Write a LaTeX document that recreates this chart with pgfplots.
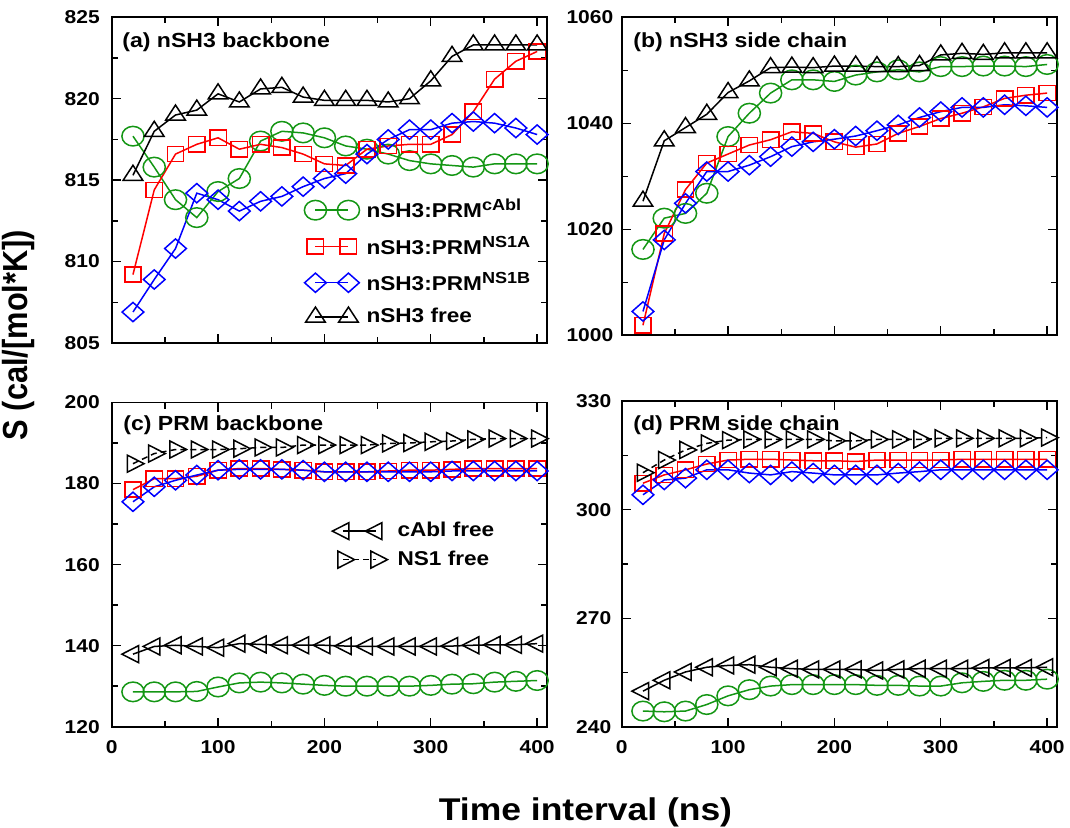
\documentclass[border=0pt]{standalone}
\usepackage{fontspec}
\setmainfont{Liberation Sans}[FakeStretch=1.13]
\setsansfont{Liberation Sans}[FakeStretch=1.13]
\newfontfamily\plainsans{Liberation Sans}
\usepackage{graphicx}
\usepackage{pgfplots}
\pgfplotsset{compat=1.18}
\usepackage{pgfplotstable}

\definecolor{ggreen}{RGB}{20,150,20}
\definecolor{gred}{RGB}{255,0,0}
\definecolor{gblue}{RGB}{0,0,255}

\pgfplotstableread{
x cabl ns1a ns1b free
20 817.7 809.2 806.9 815.3
40 815.8 814.4 808.9 818.0
60 813.8 816.6 810.8 819.0
80 812.7 817.2 814.2 819.3
100 814.3 817.6 813.8 820.3
120 815.1 816.9 813.1 819.8
140 817.4 817.2 813.7 820.6
160 818.0 817.0 814.0 820.7
180 817.9 816.6 814.6 820.1
200 817.6 816.0 815.1 819.9
220 817.1 815.9 815.4 819.9
240 816.9 816.9 816.6 819.9
260 816.6 817.1 817.5 819.8
280 816.2 817.2 818.1 820.0
300 816.0 817.2 818.1 821.1
320 815.9 817.8 818.5 822.6
340 815.8 819.2 818.6 823.3
360 816.0 821.2 818.5 823.3
380 816.0 822.3 818.2 823.3
400 816.0 822.9 817.8 823.3
}\tabA

\pgfplotstableread{
x cabl ns1a ns1b free
20 1016.2 1001.9 1004.5 1025.3
40 1022.1 1019.2 1018.0 1036.7
60 1023.0 1027.5 1024.9 1039.2
80 1026.8 1032.5 1030.9 1041.7
100 1037.5 1034.2 1030.9 1045.8
120 1041.9 1035.9 1032.1 1048.0
140 1045.7 1036.9 1033.7 1050.5
160 1048.2 1038.4 1035.6 1050.6
180 1048.2 1038.1 1036.5 1050.5
200 1047.9 1036.5 1037.0 1050.8
220 1049.1 1035.5 1037.6 1050.8
240 1049.7 1036.1 1038.6 1050.7
260 1050.1 1038.1 1039.7 1050.7
280 1049.7 1039.4 1041.1 1050.9
300 1050.7 1040.9 1042.2 1052.9
320 1050.7 1041.9 1043.0 1053.2
340 1050.8 1043.1 1043.0 1053.0
360 1050.8 1044.7 1043.5 1053.3
380 1050.7 1045.3 1043.3 1053.3
400 1051.1 1045.7 1043.0 1053.3
}\tabB

\pgfplotstableread{
x cabl ns1a ns1b cfree nfree
20 128.6 178.5 175.5 137.9 184.9
40 128.6 181.2 179.2 139.8 187.4
60 128.6 181.2 180.8 140.1 188.4
80 128.7 181.8 182.1 139.8 188.4
100 129.8 183.3 183.3 139.5 188.4
120 130.8 183.7 183.5 140.5 188.6
140 131.0 183.7 183.5 140.3 188.9
160 130.8 183.5 183.5 140.1 188.9
180 130.5 183.3 183.3 140.1 189.5
200 130.2 182.9 182.9 140.1 189.5
220 130.0 182.9 182.9 139.9 189.5
240 130.0 182.9 182.9 139.8 189.5
260 130.0 183.1 182.9 139.8 189.9
280 130.0 183.3 182.9 139.8 190.0
300 130.2 183.3 182.9 139.8 190.3
320 130.5 183.5 183.1 139.9 190.5
340 130.6 183.7 183.1 140.1 190.9
360 131.0 183.7 183.1 140.2 191.1
380 131.2 183.7 183.1 140.2 191.1
400 131.4 183.7 183.1 140.5 191.1
}\tabC

\pgfplotstableread{
x cabl ns1a ns1b cfree nfree
20 244.4 307.3 304.1 249.9 310.2
40 244.2 309.6 308.2 252.9 313.7
60 244.4 311.0 308.7 255.2 316.5
80 246.2 312.6 311.0 256.5 318.3
100 248.6 313.7 311.0 257.0 319.2
120 250.3 313.9 310.1 257.2 319.4
140 251.3 313.9 309.6 256.5 319.4
160 251.7 313.7 310.5 256.1 319.4
180 251.7 313.5 310.1 255.9 319.4
200 251.7 313.5 309.6 255.9 319.0
220 251.7 313.3 309.6 255.9 319.0
240 251.5 313.7 309.6 255.6 319.4
260 251.5 313.7 310.1 255.9 319.4
280 251.3 313.7 310.5 256.1 319.4
300 251.3 313.7 311.0 256.1 319.7
320 252.2 313.9 311.0 256.1 319.7
340 252.6 313.9 311.0 256.3 319.7
360 252.9 313.9 311.0 256.3 319.7
380 252.9 313.9 311.0 256.3 319.7
400 253.2 313.9 311.0 256.5 319.9
}\tabD

\pgfplotsset{
  panel/.style={
    scale only axis, width=217.5pt,
    xmin=0, xmax=409, xtick={0,100,...,400},
    minor x tick num=1, minor y tick num=1,
    tick align=inside,
    axis line style={line width=0.9pt},
    major tick length=4.5pt, minor tick length=3pt,
    tick style={line width=0.7pt, black},
    clip=false,
    /pgf/number format/assume math mode=true,
    /pgf/number format/1000 sep={},
    ticklabel style={font=\bfseries\fontsize{9.3}{9.3}\selectfont},
    yticklabel style={inner sep=0pt, anchor=east},
    xticklabel style={inner sep=0pt, anchor=north, yshift=-6.5pt},
    legend image code/.code={\draw[#1] plot coordinates {(0pt,0pt) (16.5pt,0pt)};},
    legend cell align=left,
    every axis plot/.append style={line width=0.75pt},
  },
  scab/.style={color=ggreen, mark=o, mark size=4.9pt, mark options={xscale=1.13}},
  sns1a/.style={color=gred, mark=square, mark size=3.8pt, mark options={xscale=1.08}},
  sns1b/.style={color=gblue, mark=square, mark size=3.4pt, mark options={xscale=1.13,rotate=45}},
  sfree/.style={color=black, mark=triangle, mark size=5pt, mark options={xscale=1.13}},
  scfree/.style={color=black, mark=triangle, mark size=4.9pt, mark options={xscale=1.13,rotate=90}},
  snfree/.style={color=black, dash pattern=on 3pt off 2pt, mark=triangle, mark size=4.9pt, mark options={solid,xscale=1.13,rotate=-90}},
}

\newcommand{\sups}[1]{\raisebox{3.5pt}{\fontsize{8}{8}\selectfont #1}}

\begin{document}
\begin{tikzpicture}
\begin{scope}[x=0.5pt,y=-0.5pt]
  \path[use as bounding box] (0,0) rectangle (1070,828);
  \coordinate (pa) at (111.7,17.3);
  \coordinate (pb) at (621.7,17.3);
  \coordinate (pc) at (111.7,402.5);
  \coordinate (pd) at (621.7,401);
\end{scope}

% (a)
\begin{axis}[panel, at={(pa)}, anchor=north west, height=162.85pt,
  ymin=805, ymax=825, ytick={805,810,...,825}, xticklabels={},
  yticklabel style={xshift=-5.8pt},
  legend style={at={(axis description cs:0.4420,0.4483)}, anchor=north west,
    draw=none, fill=none, inner sep=0pt, row sep=5.5pt, column sep=2.5pt,
    font=\bfseries\fontsize{10}{10}\selectfont, nodes={inner sep=1pt}}]
\addplot[scab] table[x=x,y=cabl]{\tabA};
\addlegendentry{nSH3:PRM\sups{cAbl}}
\addplot[sns1a] table[x=x,y=ns1a]{\tabA};
\addlegendentry{nSH3:PRM\sups{NS1A}}
\addplot[sns1b] table[x=x,y=ns1b]{\tabA};
\addlegendentry{nSH3:PRM\sups{NS1B}}
\addplot[sfree] table[x=x,y=free]{\tabA};
\addlegendentry{nSH3 free}
\end{axis}

% (b)
\begin{axis}[panel, at={(pb)}, anchor=north west, height=159pt,
  ymin=1000, ymax=1060, ytick={1000,1020,...,1060}, xticklabels={},
  yticklabel style={xshift=-4pt}]
\addplot[scab] table[x=x,y=cabl]{\tabB};
\addplot[sns1a] table[x=x,y=ns1a]{\tabB};
\addplot[sns1b] table[x=x,y=ns1b]{\tabB};
\addplot[sfree] table[x=x,y=free]{\tabB};
\end{axis}

% (c)
\begin{axis}[panel, at={(pc)}, anchor=north west, height=162.1pt,
  ymin=120, ymax=200, ytick={120,140,...,200},
  yticklabel style={xshift=-5.8pt},
  legend style={at={(axis description cs:0.5064,0.6376)}, anchor=north west,
    draw=none, fill=none, inner sep=0pt, row sep=3.5pt, column sep=4pt,
    font=\bfseries\fontsize{10}{10}\selectfont, nodes={inner sep=1pt}}]
\addplot[scab, forget plot] table[x=x,y=cabl]{\tabC};
\addplot[sns1a, forget plot] table[x=x,y=ns1a]{\tabC};
\addplot[sns1b, forget plot] table[x=x,y=ns1b]{\tabC};
\addplot[scfree] table[x=x,y=cfree]{\tabC};
\addlegendentry{cAbl free}
\addplot[snfree] table[x=x,y=nfree]{\tabC};
\addlegendentry{NS1 free}
\end{axis}

% (d)
\begin{axis}[panel, at={(pd)}, anchor=north west, height=163pt,
  ymin=240, ymax=330, ytick={240,270,...,330},
  yticklabel style={xshift=-5pt}]
\addplot[scab] table[x=x,y=cabl]{\tabD};
\addplot[sns1a] table[x=x,y=ns1a]{\tabD};
\addplot[sns1b] table[x=x,y=ns1b]{\tabD};
\addplot[scfree] table[x=x,y=cfree]{\tabD};
\addplot[snfree] table[x=x,y=nfree]{\tabD};
\end{axis}

\begin{scope}[x=0.5pt,y=-0.5pt]
  \node[anchor=west, inner sep=0pt, font=\bfseries\fontsize{10.2}{12}\selectfont] at (122,42) {(a) nSH3 backbone};
  \node[anchor=west, inner sep=0pt, font=\bfseries\fontsize{10.2}{12}\selectfont] at (633,42) {(b) nSH3 side chain};
  \node[anchor=west, inner sep=0pt, font=\bfseries\fontsize{10.2}{12}\selectfont] at (123,425) {(c) PRM backbone};
  \node[anchor=west, inner sep=0pt, font=\bfseries\fontsize{10.2}{12}\selectfont] at (633,425) {(d) PRM side chain};
  \node[rotate=90, anchor=base, inner sep=0pt] at (27,335) {\scalebox{1}[1.13]{\plainsans\bfseries\fontsize{15.4}{18}\selectfont S (cal/[mol*K])}};
  \node[anchor=base, inner sep=0pt, font=\bfseries\fontsize{15.7}{18}\selectfont] at (585.5,820) {Time interval (ns)};
\end{scope}
\end{tikzpicture}
\end{document}
